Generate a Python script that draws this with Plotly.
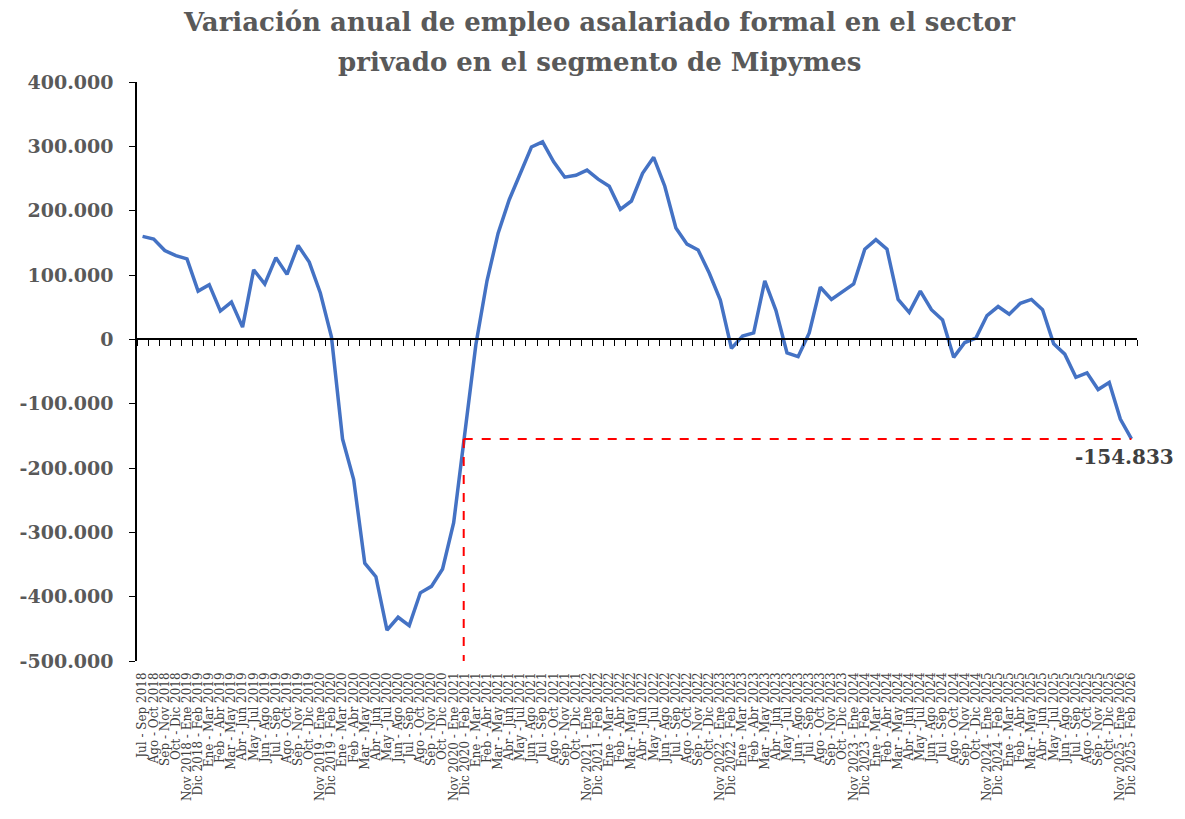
import plotly.graph_objects as go

periods = [
    "Jul - Sep 2018", "Ago - Oct 2018", "Sep - Nov 2018", "Oct - Dic 2018",
    "Nov 2018 - Ene 2019", "Dic 2018 - Feb 2019", "Ene - Mar 2019", "Feb - Abr 2019",
    "Mar - May 2019", "Abr - Jun 2019", "May - Jul 2019", "Jun - Ago 2019",
    "Jul - Sep 2019", "Ago - Oct 2019", "Sep - Nov 2019", "Oct - Dic 2019",
    "Nov 2019 - Ene 2020", "Dic 2019 - Feb 2020", "Ene - Mar 2020", "Feb - Abr 2020",
    "Mar - May 2020", "Abr - Jun 2020", "May - Jul 2020", "Jun - Ago 2020",
    "Jul - Sep 2020", "Ago - Oct 2020", "Sep - Nov 2020", "Oct - Dic 2020",
    "Nov 2020 - Ene 2021", "Dic 2020 - Feb 2021", "Ene - Mar 2021", "Feb - Abr 2021",
    "Mar - May 2021", "Abr - Jun 2021", "May - Jul 2021", "Jun - Ago 2021",
    "Jul - Sep 2021", "Ago - Oct 2021", "Sep - Nov 2021", "Oct - Dic 2021",
    "Nov 2021 - Ene 2022", "Dic 2021 - Feb 2022", "Ene - Mar 2022", "Feb - Abr 2022",
    "Mar - May 2022", "Abr - Jun 2022", "May - Jul 2022", "Jun - Ago 2022",
    "Jul - Sep 2022", "Ago - Oct 2022", "Sep - Nov 2022", "Oct - Dic 2022",
    "Nov 2022 - Ene 2023", "Dic 2022 - Feb 2023", "Ene - Mar 2023", "Feb - Abr 2023",
    "Mar - May 2023", "Abr - Jun 2023", "May - Jul 2023", "Jun - Ago 2023",
    "Jul - Sep 2023", "Ago - Oct 2023", "Sep - Nov 2023", "Oct - Dic 2023",
    "Nov 2023 - Ene 2024", "Dic 2023 - Feb 2024", "Ene - Mar 2024", "Feb - Abr 2024",
    "Mar - May 2024", "Abr - Jun 2024", "May - Jul 2024", "Jun - Ago 2024",
    "Jul - Sep 2024", "Ago - Oct 2024", "Sep - Nov 2024", "Oct - Dic 2024",
    "Nov 2024 - Ene 2025", "Dic 2024 - Feb 2025", "Ene - Mar 2025", "Feb - Abr 2025",
    "Mar - May 2025", "Abr - Jun 2025", "May - Jul 2025", "Jun - Ago 2025",
    "Jul - Sep 2025", "Ago - Oct 2025", "Sep - Nov 2025", "Oct - Dic 2025",
    "Nov 2025 - Ene 2026", "Dic 2025 - Feb 2026",
]

values = [
    160000, 156000, 138000, 130000, 125000, 75000, 85000, 44000, 58000, 19000,
    108000, 86000, 127000, 101000, 146000, 120000, 72000, 4000, -155000, -218000,
    -348000, -369000, -452000, -432000, -445000, -394000, -384000, -357000, -285000, -141000,
    -8000, 91000, 165000, 217000, 258000, 299000, 307000, 276000, 252000, 255000,
    263000, 249000, 238000, 202000, 215000, 258000, 283000, 238000, 173000, 148000,
    139000, 103000, 61000, -14000, 5000, 10000, 91000, 45000, -21000, -27000,
    10000, 81000, 62000, 74000, 86000, 140000, 155000, 140000, 62000, 42000,
    75000, 46000, 30000, -28000, -5000, 2000, 37000, 51000, 39000, 56000,
    62000, 46000, -7000, -23000, -59000, -52000, -78000, -67000, -124000, -154833,
]

y_tickvals = [-500000, -400000, -300000, -200000, -100000, 0, 100000, 200000, 300000, 400000]
y_ticktext = ["-500.000", "-400.000", "-300.000", "-200.000", "-100.000", "0",
              "100.000", "200.000", "300.000", "400.000"]

title_lines = ["Variación anual de empleo asalariado formal en el sector",
               "privado en el segmento de Mipymes"]

last_val = values[-1]
last_idx = len(values) - 1
# where the recovery after the 2020 minimum crosses the last value
min_idx = values.index(min(values))
cross_idx = None
for i in range(min_idx, len(values) - 1):
    if values[i] <= last_val <= values[i + 1]:
        cross_idx = i + (last_val - values[i]) / (values[i + 1] - values[i])
        break

SERIF = "DejaVu Serif"
GRAY = "#595959"

fig = go.Figure()
fig.add_trace(go.Scatter(
    x=list(range(len(values))), y=values, mode="lines",
    line=dict(color="#4472C4", width=3.5), hoverinfo="skip", showlegend=False,
))
# invisible trace so the zero-line axis (with boundary ticks) is drawn
fig.add_trace(go.Scatter(
    x=list(range(len(values))), y=values, mode="lines", xaxis="x2",
    line=dict(color="rgba(0,0,0,0)", width=0), hoverinfo="skip", showlegend=False,
))

# red dashed reference lines
fig.add_trace(go.Scatter(
    x=[cross_idx, last_idx], y=[last_val, last_val], mode="lines",
    line=dict(color="#FF0000", width=2, dash="dash"), hoverinfo="skip", showlegend=False,
))
fig.add_trace(go.Scatter(
    x=[cross_idx, cross_idx], y=[last_val, y_tickvals[0]], mode="lines",
    line=dict(color="#FF0000", width=2, dash="dash"), hoverinfo="skip", showlegend=False,
))

label = f"{last_val:,}".replace(",", ".")
fig.add_annotation(
    x=last_idx, y=last_val, xref="x", yref="y", text=f"<b>{label}</b>",
    showarrow=False, xanchor="right", yanchor="top", yshift=-4, xshift=45,
    font=dict(family=SERIF, size=20, color="#404040"),
)

for line_text, ypos in zip(title_lines, [1.104, 1.035]):
    fig.add_annotation(
        text=f"<b>{line_text}</b>", xref="paper", yref="paper",
        x=0.462, y=ypos, xanchor="center", yanchor="middle", showarrow=False,
        font=dict(family=SERIF, size=26, color=GRAY),
    )

ymin, ymax = y_tickvals[0], y_tickvals[-1]
# the page body adds an 8px offset, so the figure is sized/margined to compensate
fig.update_layout(
    width=1177, height=803,
    paper_bgcolor="white", plot_bgcolor="white",
    margin=dict(l=129, r=48, t=74, b=150),
    xaxis=dict(
        range=[-0.5, len(values) - 0.5], tickmode="array",
        tickvals=list(range(len(values))), ticktext=periods, tickangle=-90,
        showline=False, showgrid=False, zeroline=False, ticks="",
        ticklabelstandoff=8, automargin=False,
        tickfont=dict(family=SERIF, size=12, color="#404040"),
    ),
    xaxis2=dict(
        overlaying="x", anchor="free", position=(0 - ymin) / (ymax - ymin), side="bottom",
        range=[-0.5, len(values) - 0.5], tickmode="linear", tick0=-0.5, dtick=1,
        showline=True, linecolor="black", linewidth=1.5,
        ticks="outside", ticklen=6, tickcolor="black", tickwidth=1.2,
        showticklabels=False, showgrid=False, zeroline=False, automargin=False,
    ),
    yaxis=dict(
        range=[ymin, ymax], tickmode="array", tickvals=y_tickvals, ticktext=y_ticktext,
        showline=True, linecolor="black", linewidth=1.5,
        ticks="outside", ticklen=6, tickcolor="black",
        showgrid=False, zeroline=False, automargin=False, ticklabelstandoff=12,
        tickfont=dict(family=SERIF, size=19, color=GRAY, weight="bold"),
    ),
)

fig.write_html("out.html")
